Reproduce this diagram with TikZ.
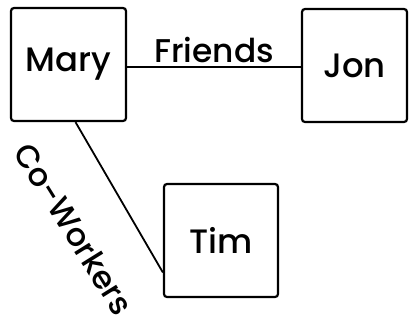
\documentclass[tikz,border=0pt]{standalone}
\usepackage{fontspec}
\setmainfont{Poppins}[UprightFont=* Medium]
\begin{document}
\begin{tikzpicture}[x=1bp,y=-1bp,
  person/.style={draw, line width=2.2bp, rounded corners=3bp, inner sep=0pt,
    font=\fontsize{34}{40}\selectfont},
  link/.style={line width=1.8bp},
  lbl/.style={font=\fontsize{33}{38}\selectfont, inner sep=1bp}]
\useasboundingbox (0,0) rectangle (409,326);
\node[person, minimum width=115bp, minimum height=113bp] (Mary) at (68.5,64.5) {Mary};
\node[person, minimum width=105bp, minimum height=113bp] (Jon) at (354.5,65.5) {Jon};
\node[person, minimum width=114bp, minimum height=113bp] (Tim) at (221,240.5) {Tim};
\draw[link] ([yshift=-2.5bp]Mary.east) -- ([yshift=-2.5bp]Mary.east -| Jon.west)
  node[lbl, midway, above=2bp] (fr) {Friends};
\draw[link] ([xshift=7bp]Mary.south) -- ([yshift=-32bp]Tim.west);
\node[lbl, font=\fontsize{32}{37}\selectfont, rotate=-58] (cw) at (74,229) {Co-Workers};
\end{tikzpicture}
\end{document}
